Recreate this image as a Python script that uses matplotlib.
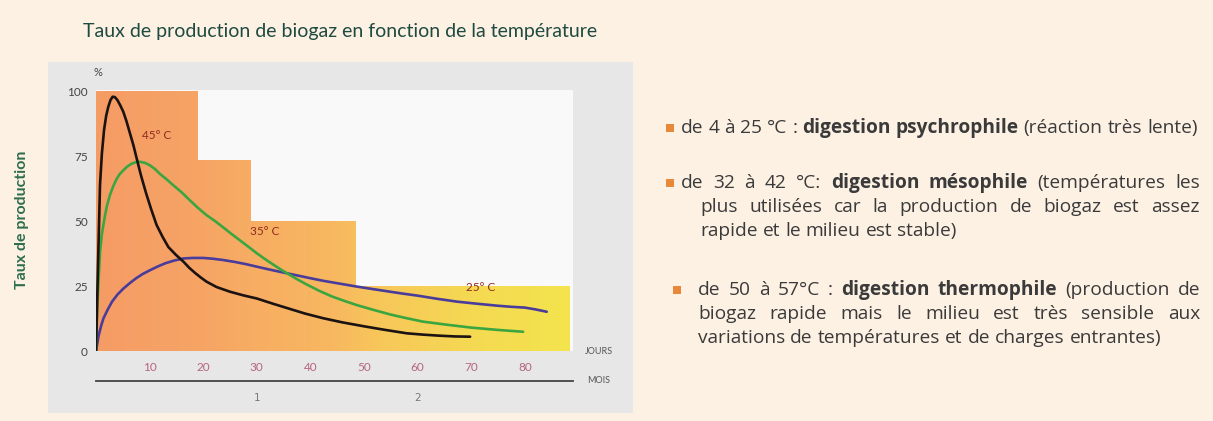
import numpy as np
import matplotlib
matplotlib.use('Agg')
import matplotlib.pyplot as plt
from matplotlib.patches import Rectangle, Polygon
from matplotlib.colors import LinearSegmentedColormap

W, H = 1213, 421

# ---------------- data ----------------
title = "Taux de production de biogaz en fonction de la température"
ylabel = "Taux de production"
pct_ticks = [0, 25, 50, 75, 100]
day_ticks = [10, 20, 30, 40, 50, 60, 70, 80]
months = [1, 2]

# background steps (days, %)
step_edges = [0, 19, 29, 48.5, 88.5]
step_heights = [100, 73.5, 50, 25]

temp_labels = ["45° C", "35° C", "25° C"]
label_pos_x = [11.4, 31.4, 71.8]
label_pos_y = [83, 46, 24.3]

black_x = [0, 0.2, 0.4, 0.75, 1.1, 1.5, 1.9, 2.3, 2.7, 3.1, 3.5, 4.0, 4.5, 5.1, 5.7, 6.3,
           7.0, 7.6, 8.4, 9.3, 10.3, 11.3, 12.4, 13.5, 14.9, 16.3, 17.4, 18.5, 19.6,
           20.6, 22.5, 25, 27.5, 30, 33, 36, 39, 42.4, 46, 50, 54, 58, 61, 64, 67, 69.8]
black_y = [0, 18, 35, 64, 76, 85, 90.5, 94, 96.5, 97.8, 97.7, 96.5, 94.6, 92, 88.3, 84,
           79, 74, 67.5, 61, 54.5, 48.5, 44, 40, 37, 34.4, 32, 30, 28.2,
           26.7, 24.6, 22.8, 21.4, 20.2, 18.2, 16.3, 14.4, 12.6, 11, 9.5, 8.1, 6.8, 6.3, 5.9, 5.6, 5.5]

green_x = [0, 0.3, 0.75, 1.1, 1.5, 2.0, 2.6, 3.2, 3.8, 4.4, 5.1, 5.8, 6.6, 7.4, 8.2, 9.1,
           10, 11, 12, 13.2, 14.4, 16, 17.5, 19, 20.6, 22.2, 23.7, 25.3, 26.9, 28.5,
           30, 31.5, 33.1, 34.6, 36.2, 37.7, 39.3, 41.6, 44, 46.3, 48.6, 51.8, 55, 58,
           61, 65.5, 70, 75, 79.7]
green_y = [0, 20, 38, 45, 50, 55.5, 60, 63.3, 66, 68, 69.5, 70.9, 72, 72.6, 72.8, 72.4,
           71.5, 70, 68, 66, 63.8, 61, 58, 55.1, 52.3, 50, 47.6, 45, 42.5, 40,
           37.6, 35.4, 33.2, 31.2, 29.2, 27.4, 25.6, 23.2, 21, 19.3, 17.7, 15.8, 14, 12.6,
           11.3, 10.1, 9, 8.1, 7.4]

purple_x = [0, 0.5, 1.0, 1.4, 2.2, 3, 4, 5.1, 6.3, 7.5, 8.7, 10, 11.5, 13, 14.6, 16.3,
            18.1, 20, 21.8, 23.7, 25.8, 28, 30.5, 33.1, 35.4, 37.7, 40, 42.4, 45.5,
            48.6, 51.7, 54.9, 57.5, 60, 63.6, 67.3, 71, 75, 77.5, 80, 82, 84.1]
purple_y = [0, 6, 10, 12.6, 16, 19, 21.7, 24, 26.1, 28, 29.6, 31, 32.5, 33.8, 34.8, 35.6,
            35.8, 35.8, 35.5, 35, 34.3, 33.4, 32.2, 31, 30, 29, 28, 27, 25.9,
            24.8, 23.8, 22.8, 22, 21.3, 20.1, 19, 18.2, 17.4, 17, 16.7, 16, 15.1]

bullet_lines = [
    [("de 4 à 25 °C :", "normal"), ("digestion psychrophile", "bold"), ("(réaction très lente)", "normal")],
    [("de 32 à 42 °C:", "normal"), ("digestion mésophile", "bold"), ("(températures les", "normal")],
    [("plus utilisées car la production de biogaz est assez", "normal")],
    [("rapide et le milieu est stable)", "normal")],
    [("de 50 à 57°C :", "normal"), ("digestion thermophile", "bold"), ("(production de", "normal")],
    [("biogaz rapide mais le milieu est très sensible aux", "normal")],
    [("variations de températures et de charges entrantes)", "normal")],
]

# ---------------- figure ----------------
FAM = ['Lato', 'DejaVu Sans']
BODY = ['Open Sans', 'DejaVu Sans']
TXT = '#3a3a3a'

fig = plt.figure(figsize=(W / 100, H / 100), dpi=100)
fig.patch.set_facecolor('#FDF1E4')
bg = fig.add_axes([0, 0, 1, 1])
bg.set_xlim(0, W)
bg.set_ylim(H, 0)
bg.axis('off')
bg.add_patch(Rectangle((48, 62), 585, 351, facecolor='#E7E7E7', edgecolor='none'))

renderer = fig.canvas.get_renderer()

def fit_width(t, target):
    w = t.get_window_extent(renderer).width
    t.set_fontsize(t.get_fontsize() * target / w)

# title
t = bg.text(83, 31, title, fontsize=12, color='#1F4A40', family=FAM,
            ha='left', va='center')
fit_width(t, 514)

# y label
t = bg.text(22, 220, ylabel, fontsize=10, color='#2E6E4E', family=FAM,
            fontweight='bold', rotation=90, ha='center', va='center')
w = t.get_window_extent(renderer).height
t.set_fontsize(10 * 140 / w)

# ---------------- main axes ----------------
ax = fig.add_axes([96 / W, 1 - 351 / H, 477 / W, 261 / H])
ax.set_facecolor('#F9F9F9')

cmap = LinearSegmentedColormap.from_list('heat', [
    (0.0, '#F59C66'), (0.2, '#F6A365'), (0.33, '#F7AD63'), (0.5, '#F8B860'),
    (0.6, '#F7C75A'), (0.8, '#F5DA52'), (1.0, '#F3E44C')])
grad = np.linspace(0, 1, 256).reshape(1, -1)
im = ax.imshow(grad, extent=[0, step_edges[-1], 0, max(step_heights)],
               aspect='auto', cmap=cmap, origin='lower', zorder=1)
xs = np.repeat(step_edges, 2)[1:-1]
ys = np.repeat(step_heights, 2)
poly = Polygon(np.column_stack([np.concatenate([[0], xs, [step_edges[-1]]]),
                                np.concatenate([[0], ys, [0]])]),
               closed=True, facecolor='none', edgecolor='none',
               transform=ax.transData)
ax.add_patch(poly)
im.set_clip_path(poly)

ax.plot(purple_x, purple_y, color='#4A3C9B', lw=1.9, zorder=3, solid_capstyle='round')
ax.plot(green_x, green_y, color='#3BA640', lw=1.9, zorder=4, solid_capstyle='round')
ax.plot(black_x, black_y, color='#1B1212', lw=1.9, zorder=5, solid_capstyle='round')

for lab, lx, ly in zip(temp_labels, label_pos_x, label_pos_y):
    ax.text(lx, ly, lab, color='#8E2A20', fontsize=8.5, family=FAM,
            ha='center', va='center', zorder=6)

ax.set_xlim(0, 89)
ax.set_ylim(0, 100.4)
for s in ax.spines.values():
    s.set_visible(False)
ax.set_yticks(pct_ticks, labels=[str(v) for v in pct_ticks])
ax.set_xticks(day_ticks, labels=[str(v) for v in day_ticks])
ax.tick_params(axis='y', length=0, pad=6, labelsize=8.5, labelcolor='#444444')
ax.tick_params(axis='x', length=0, pad=8, labelsize=8.5, labelcolor='#B5657E')
for lbl in ax.get_xticklabels() + ax.get_yticklabels():
    lbl.set_family(FAM)

ax.text(0.3, 107, '%', fontsize=8, color='#444444', family=FAM,
        ha='center', va='center', clip_on=False)
ax.text(91.3, 0, 'JOURS', fontsize=6.5, color='#555555', family=FAM,
        ha='left', va='center', clip_on=False)
ax.text(91.6, -11.5, 'MOIS', fontsize=6.5, color='#555555', family=FAM,
        ha='left', va='center', clip_on=False)

sec = ax.secondary_xaxis(-11.5 / 100.4, functions=(lambda d: d / 30, lambda m: m * 30))
sec.set_xticks(months, labels=[str(m) for m in months])
sec.tick_params(length=0, pad=9, labelsize=7.5, labelcolor='#777777')
sec.spines['bottom'].set_color('#444444')
sec.spines['bottom'].set_linewidth(1.3)

# ---------------- right-hand text ----------------
line_y = [128, 183, 207, 231, 290, 314, 338]
line_x = [681, 681, 700, 700, 698, 698, 698]
justify = [False, True, True, False, True, True, False]
bullet_at = {0: (670, 128), 1: (670, 183), 4: (677, 290)}
RIGHT = 1200

def rich_line(x0, y, segs, fs, right=None):
    words = []
    for text, wt in segs:
        for wd in text.split():
            words.append((wd, wt))
    arts = [bg.text(0, y, wd, fontsize=fs, fontweight=wt, family=BODY,
                    color=TXT, ha='left', va='center') for wd, wt in words]
    widths = [a.get_window_extent(renderer).width for a in arts]
    a1 = bg.text(0, 0, 'x x', fontsize=fs, family=BODY)
    a2 = bg.text(0, 0, 'xx', fontsize=fs, family=BODY)
    space = a1.get_window_extent(renderer).width - a2.get_window_extent(renderer).width
    a1.remove(); a2.remove()
    if right is not None and len(arts) > 1:
        gap = (right - x0 - sum(widths)) / (len(arts) - 1)
    else:
        gap = space
    x = x0
    for a, w in zip(arts, widths):
        a.set_x(x)
        x += w + gap
    return x - gap - x0, arts

# font size chosen so that line 1 spans its measured width
FS = 10
nat, tmp = rich_line(0, -100, bullet_lines[0], FS)
for a in tmp:
    a.remove()
FS = FS * (RIGHT - 2 - line_x[0]) / nat

for i, segs in enumerate(bullet_lines):
    rich_line(line_x[i], line_y[i], segs, FS, RIGHT if justify[i] else None)

for i, (bx, by) in bullet_at.items():
    bg.add_patch(Rectangle((bx - 4, by - 4), 8, 8, facecolor='#E8883A', edgecolor='none'))

fig.savefig('out.png', dpi=100, facecolor=fig.get_facecolor())
